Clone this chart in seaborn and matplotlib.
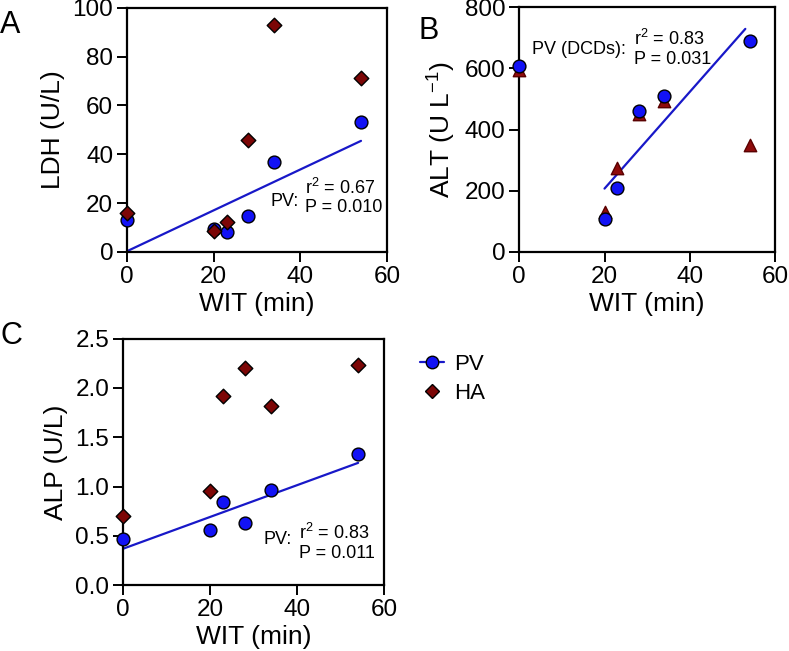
import numpy as np
import seaborn as sns
import matplotlib.pyplot as plt
from matplotlib.lines import Line2D
from matplotlib.ticker import FormatStrFormatter

# WIT (min) for the six livers
wit = [0, 20, 23, 28, 34, 54]

# A: LDH
ldh_pv = [13.1, 9.3, 8.1, 14.6, 36.8, 53.4]
ldh_ha = [15.8, 8.7, 12.2, 45.8, 92.9, 71.2]
ldh_fit_x = [0, 54]
ldh_fit_y = [0.3, 45.5]

# B: ALT
alt_pv = [609, 109, 210, 459, 511, 688]
alt_ha = [595, 131, 275, 450, 493, 350]
alt_fit_x = [20, 53]
alt_fit_y = [207, 729]

# C: ALP
alp_pv = [0.47, 0.56, 0.84, 0.63, 0.97, 1.33]
alp_ha = [0.70, 0.95, 1.92, 2.20, 1.82, 2.23]
alp_fit_x = [0, 54]
alp_fit_y = [0.37, 1.24]

pv_color = '#1212F5'
line_color = '#1818C8'
ha_color = '#7C0606'
tri_color = '#8E0B0B'

sns.set_theme(style='ticks')
plt.rcParams['font.family'] = ['Liberation Sans', 'DejaVu Sans']
plt.rcParams['mathtext.fontset'] = 'custom'
plt.rcParams['mathtext.rm'] = 'Liberation Sans'
plt.rcParams['mathtext.it'] = 'Liberation Sans'
plt.rcParams['text.color'] = 'black'
plt.rcParams['axes.labelcolor'] = 'black'

fig = plt.figure(figsize=(7.89, 6.51), dpi=100)
axA = fig.add_axes([0.161, 0.613, 0.3295, 0.375])
axB = fig.add_axes([0.658, 0.613, 0.3245, 0.376])
axC = fig.add_axes([0.156, 0.101, 0.331, 0.379])


def style_axis(ax, ylim, yticks, ylabel):
    ax.set_xlim(0, 60)
    ax.set_ylim(*ylim)
    ax.set_xticks([0, 20, 40, 60])
    ax.set_yticks(yticks)
    for sp in ax.spines.values():
        sp.set_visible(True)
        sp.set_linewidth(1.6)
        sp.set_color('black')
    ax.tick_params(direction='out', length=7, width=1.4, labelsize=17.5,
                   colors='black', pad=3)
    ax.set_xlabel('WIT (min)', fontsize=19, labelpad=3)
    ax.set_ylabel(ylabel, fontsize=19, labelpad=5)


def fit_line(ax, fx, fy):
    sns.lineplot(x=fx, y=fy, ax=ax, color=line_color, linewidth=1.6, zorder=2)


def points(ax, y, marker, color, s, z, edge='black'):
    sns.scatterplot(x=wit, y=y, ax=ax, marker=marker, color=color, s=s,
                    edgecolor=edge, linewidth=1.0, zorder=z, clip_on=False)


# A
fit_line(axA, ldh_fit_x, ldh_fit_y)
points(axA, ldh_pv, 'o', pv_color, 85, 3)
points(axA, ldh_ha, 'D', ha_color, 55, 4)
style_axis(axA, (0, 100), [0, 20, 40, 60, 80, 100], 'LDH (U/L)')
axA.text(33.0, 20.5, 'PV:', fontsize=13, va='center')
axA.text(41.1, 26.2, 'r$^2$ = 0.67', fontsize=13, va='center')
axA.text(41.1, 18.4, 'P = 0.010', fontsize=13, va='center')

# B
fit_line(axB, alt_fit_x, alt_fit_y)
points(axB, alt_ha, '^', tri_color, 80, 3, edge='#5A0000')
points(axB, alt_pv, 'o', pv_color, 85, 4)
style_axis(axB, (0, 800), [0, 200, 400, 600, 800], 'ALT (U L$^{-1}$)')
axB.text(3.0, 660, 'PV (DCDs):', fontsize=13, va='center')
axB.text(27.0, 695, 'r$^2$ = 0.83', fontsize=13, va='center')
axB.text(27.0, 630, 'P = 0.031', fontsize=13, va='center')

# C
fit_line(axC, alp_fit_x, alp_fit_y)
points(axC, alp_pv, 'o', pv_color, 85, 3)
points(axC, alp_ha, 'D', ha_color, 55, 4)
style_axis(axC, (0, 2.5), [0.0, 0.5, 1.0, 1.5, 2.0, 2.5], 'ALP (U/L)')
axC.yaxis.set_major_formatter(FormatStrFormatter('%.1f'))
axC.text(32.2, 0.466, 'PV:', fontsize=13, va='center')
axC.text(40.5, 0.53, 'r$^2$ = 0.83', fontsize=13, va='center')
axC.text(40.5, 0.32, 'P = 0.011', fontsize=13, va='center')

# panel letters
fig.text(0.0, 0.962, 'A', fontsize=22, va='center')
fig.text(0.530, 0.953, 'B', fontsize=22, va='center')
fig.text(0.0, 0.484, 'C', fontsize=22, va='center')

handles = [
    Line2D([], [], color=line_color, linewidth=1.6, marker='o', markersize=9,
           markerfacecolor=pv_color, markeredgecolor='black', markeredgewidth=1.0),
    Line2D([], [], linestyle='none', marker='D', markersize=7,
           markerfacecolor=ha_color, markeredgecolor='black', markeredgewidth=1.0),
]
fig.legend(handles, ['PV', 'HA'], loc='upper left', bbox_to_anchor=(0.507, 0.487),
           frameon=False, fontsize=16, handlelength=1.1, handletextpad=0.45,
           labelspacing=0.35)

fig.savefig('out.png', dpi=100)
